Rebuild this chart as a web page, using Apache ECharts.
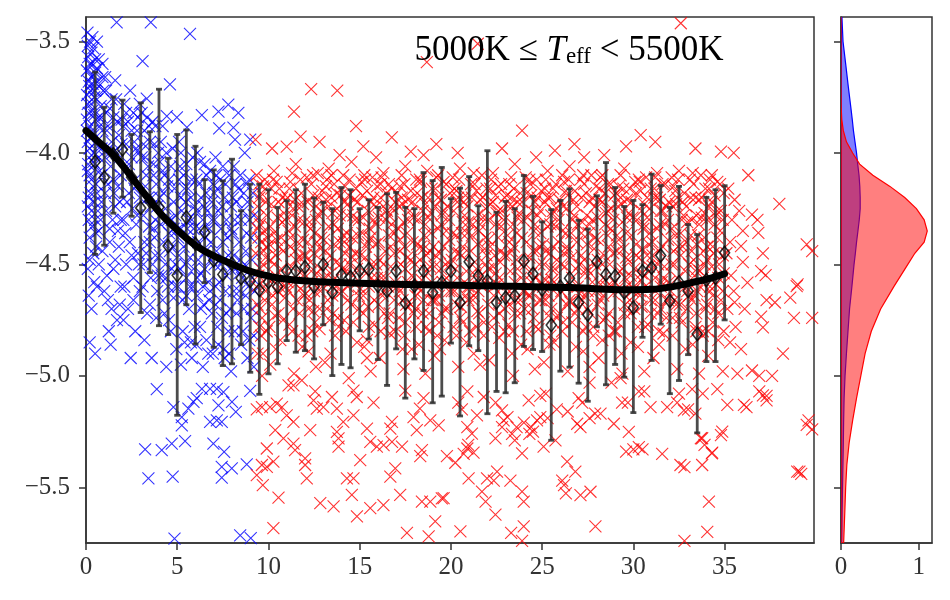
<!DOCTYPE html>
<html lang="en">
<head>
    <meta charset="UTF-8">
    <title>Teff bin</title>
    <script src="https://cdn.jsdelivr.net/npm/echarts@6.0.0/dist/echarts.min.js"></script>
</head>
<body style="margin:0">
<div id="main" style="width: 950px;height:600px;"></div>
<script type="text/javascript">

    // tick labels
    let xTicks = [0, 5, 10, 15, 20, 25, 30, 35];
    let yTicks = [-5.5, -5.0, -4.5, -4.0, -3.5];
    let sideTicks = [0, 1];

    // binned means with error bars
    let errX = [0.5, 1.0, 1.5, 2.0, 2.5, 3.0, 3.5, 4.0, 4.5, 5.0, 5.5, 6.0, 6.5, 7.0, 7.5, 8.0, 8.5, 9.0, 9.5, 10.0,
        10.5, 11.0, 11.5, 12.0, 12.5, 13.0, 13.5, 14.0, 14.5, 15.0, 15.5, 16.0, 16.5, 17.0, 17.5, 18.0, 18.5, 19.0, 19.5, 20.0,
        20.5, 21.0, 21.5, 22.0, 22.5, 23.0, 23.5, 24.0, 24.5, 25.0, 25.5, 26.0, 26.5, 27.0, 27.5, 28.0, 28.5, 29.0, 29.5, 30.0,
        30.5, 31.0, 31.5, 32.0, 32.5, 33.0, 33.5, 34.0, 34.5, 35.0];
    let errMid = [-4.04, -4.11, -4.006, -3.984, -4.109, -4.247, -4.217, -4.243, -4.418, -4.549, -4.289, -4.408, -4.356, -4.482, -4.545, -4.497, -4.562, -4.574, -4.615, -4.579,
        -4.6, -4.53, -4.53, -4.512, -4.6, -4.5, -4.626, -4.548, -4.557, -4.527, -4.522, -4.597, -4.619, -4.53, -4.674, -4.597, -4.53, -4.626, -4.582, -4.53,
        -4.671, -4.488, -4.552, -4.574, -4.671, -4.649, -4.641, -4.485, -4.542, -4.612, -4.772, -4.6, -4.562, -4.671, -4.726, -4.488, -4.545, -4.552, -4.626, -4.694,
        -4.53, -4.515, -4.46, -4.664, -4.58, -4.619, -4.812, -4.57, -4.56, -4.448];
    let errLow = [-4.455, -4.414, -4.27, -4.198, -4.284, -4.716, -4.537, -4.775, -4.815, -5.177, -4.681, -4.857, -4.582, -4.872, -4.954, -4.946, -4.86, -4.984, -5.083, -4.991,
        -4.946, -4.842, -4.894, -4.887, -4.924, -4.771, -4.999, -4.949, -4.964, -4.798, -4.835, -4.927, -5.043, -4.879, -5.1, -4.924, -4.976, -5.121, -5.091, -4.853,
        -5.18, -4.865, -4.887, -5.17, -5.07, -5.076, -5.031, -4.868, -4.882, -4.891, -5.289, -4.979, -4.961, -5.033, -5.114, -4.78, -5.04, -4.949, -5.006, -5.165,
        -4.827, -4.931, -4.768, -5.08, -5.021, -4.905, -5.256, -4.936, -4.936, -4.749];
    let errHigh = [-3.637, -3.795, -3.749, -3.763, -3.917, -3.775, -3.905, -3.714, -4.024, -3.917, -3.897, -3.97, -4.12, -4.076, -4.125, -4.028, -4.259, -4.14, -4.14, -4.165,
        -4.244, -4.214, -4.165, -4.14, -4.202, -4.221, -4.25, -4.155, -4.165, -4.25, -4.21, -4.244, -4.183, -4.177, -4.244, -4.25, -4.088, -4.124, -4.065, -4.205,
        -4.158, -4.106, -4.237, -3.99, -4.266, -4.217, -4.25, -4.101, -4.195, -4.309, -4.254, -4.213, -4.161, -4.302, -4.341, -4.192, -4.043, -4.155, -4.24, -4.213,
        -4.232, -4.095, -4.146, -4.244, -4.15, -4.321, -4.366, -4.199, -4.165, -4.147];

    // smooth trend
    let trend = [[0, -3.9], [0.75, -3.955], [1.5, -4.008], [2.4, -4.098], [3.3, -4.193], [4.2, -4.282], [5.2, -4.36], [6.1, -4.42],
        [7, -4.462], [7.9, -4.495], [8.8, -4.525], [9.7, -4.547], [10.6, -4.562], [12.5, -4.577], [14.5, -4.583], [16.5, -4.588],
        [18.5, -4.591], [20.5, -4.594], [22.5, -4.597], [24.5, -4.6], [26.6, -4.604], [28.5, -4.611], [29.7, -4.614], [31, -4.612],
        [32, -4.602], [33.4, -4.578], [34.3, -4.56], [35, -4.542]];

    // marginal densities
    let kdeY = [-3.39, -3.5, -3.6, -3.7, -3.8, -3.85, -3.9, -3.95, -4.0, -4.05, -4.1, -4.15, -4.2, -4.25, -4.3, -4.35, -4.4, -4.45,
        -4.5, -4.6, -4.7, -4.8, -4.9, -5.0, -5.1, -5.2, -5.3, -5.4, -5.5, -5.6, -5.75];
    let redDens = [0, 0, 0, 0, 0.003, 0.01, 0.03, 0.07, 0.15, 0.24, 0.41, 0.63, 0.82, 0.97, 1.07, 1.11, 1.07, 0.95,
        0.86, 0.68, 0.51, 0.39, 0.31, 0.255, 0.2, 0.15, 0.105, 0.075, 0.06, 0.05, 0.034];
    let blueDens = [0.012, 0.026, 0.06, 0.093, 0.128, 0.145, 0.16, 0.18, 0.2, 0.215, 0.232, 0.242, 0.247, 0.247, 0.235, 0.218, 0.2, 0.185,
        0.168, 0.14, 0.11, 0.09, 0.07, 0.052, 0.04, 0.034, 0.03, 0.025, 0.02, 0.015, 0.01];

    // individual stars
    let bluePts = [
        [0.1,-3.52],[0.3,-3.55],[0.2,-3.6],[0.5,-3.58],[0.4,-3.65],[0.15,-3.68],[0.6,-3.62],[0.25,-3.72],[0.45,-3.75],[0.1,-3.78],
        [0.35,-3.81],[0.7,-3.7],[0.55,-3.85],[0.2,-3.88],[0.8,-3.79],[0.4,-3.92],[0.1,-3.95],[0.65,-3.97],[0.3,-4.01],[0.9,-3.9],
        [0.5,-4.05],[0.2,-4.1],[0.75,-4.08],[0.4,-4.15],[0.15,-4.2],[0.6,-4.18],[0.3,-4.26],[0.85,-4.22],[0.5,-4.3],[0.2,-4.38],
        [0.7,-4.35],[0.4,-4.45],[0.1,-4.52],[0.6,-4.6],[0.3,-4.7],[0.2,-4.85],[0.5,-4.9],[0.35,-3.48],[0.05,-3.63],[0.6,-3.5],
        [0.9,-3.6],[0.25,-3.93],[0.45,-4.0],[0.85,-3.98],[0.15,-4.3],[0.55,-4.42],[0.05,-3.85],[0.7,-3.84],[0.3,-3.66],[0.12,-4.05],
        [0.08,-3.46],[0.22,-3.5],[0.4,-3.53],[0.12,-3.57],[0.3,-3.6],[0.5,-3.64],[0.18,-3.7],[0.36,-3.69],[0.06,-3.74],[0.6,-3.76],
        [0.28,-3.78],[0.45,-3.83],[0.15,-3.82],[0.75,-3.88],[0.33,-3.9],[0.05,-3.9],[0.55,-3.95],[0.2,-3.98],[0.4,-4.04],[0.7,-4.02],
        [0.1,-4.08],[0.3,-4.12],[0.55,-4.14],[0.85,-4.1],[0.25,-4.18],[0.45,-4.22],[0.65,-4.26],[0.1,-4.24],[0.35,-4.33],[0.8,-4.3],
        [0.55,-4.36],[0.2,-4.48],[0.7,-4.5],[0.45,-4.58],[0.15,-4.64],[0.9,-4.44],[0.5,-3.72],[0.7,-3.58],[0.95,-3.72],[0.85,-3.84],
        [0.6,-3.68],[0.9,-3.66],
        [1.1,-3.72],[1.3,-3.8],[1.2,-3.88],[1.5,-3.84],[1.6,-3.674],[1.68,-3.414],[1.4,-3.95],[1.8,-3.92],[1.05,-4.02],[1.35,-4.06],
        [1.7,-4.0],[1.9,-4.1],[1.2,-4.14],[1.55,-4.18],[1.85,-4.22],[1.1,-4.26],[1.45,-4.3],[1.75,-4.35],[1.3,-4.4],[1.6,-4.48],
        [1.15,-4.55],[1.9,-4.6],[1.4,-4.7],[1.25,-4.8],[1.7,-4.75],[1.95,-3.85],[1.5,-4.12],[1.0,-4.62],[1.35,-4.86],[1.8,-4.42],
        [1.05,-3.66],[1.25,-3.98],[1.65,-3.76],[1.15,-3.9],[1.45,-4.0],[1.75,-4.15],[1.05,-4.18],[1.6,-4.24],[1.3,-4.34],[1.9,-4.3],
        [1.5,-4.52],[1.2,-4.66],[1.85,-4.68],[1.1,-3.82],[1.4,-3.76],[1.7,-3.86],[1.95,-3.96],
        [2.1,-3.78],[2.42,-3.72],[2.3,-3.86],[2.6,-3.82],[2.8,-3.9],[2.2,-3.96],[2.5,-4.02],[2.9,-4.0],[2.15,-4.08],[2.7,-4.12],
        [2.35,-4.18],[2.95,-4.2],[2.55,-4.25],[2.05,-4.3],[2.75,-4.32],[2.4,-4.4],[2.85,-4.45],[2.2,-4.5],[2.6,-4.56],[2.95,-4.62],
        [2.3,-4.7],[2.7,-4.8],[2.45,-4.92],[2.1,-4.6],[2.65,-3.95],[2.25,-4.22],[2.05,-3.88],[2.35,-4.05],[2.65,-4.16],[2.15,-4.36],
        [2.8,-4.28],[2.5,-4.46],[2.9,-4.5],[2.05,-4.75],[2.6,-4.66],[2.85,-3.84],[2.2,-3.82],[2.5,-3.9],[2.75,-3.98],[2.95,-3.78],
        [3.1,-3.588],[3.33,-3.756],[3.55,-3.414],[3.2,-3.9],[3.5,-3.95],[3.8,-3.88],[3.05,-4.02],[3.4,-4.06],[3.7,-4.1],[3.95,-4.0],
        [3.25,-4.15],[3.6,-4.2],[3.9,-4.24],[3.15,-4.28],[3.45,-4.33],[3.75,-4.38],[3.3,-4.45],[3.65,-4.5],[3.95,-4.55],[3.1,-4.6],
        [3.5,-4.68],[3.85,-4.74],[3.2,-4.84],[3.6,-4.92],[3.88,-5.06],[3.24,-5.33],[3.42,-5.46],[3.35,-3.84],[3.05,-3.82],[3.65,-3.86],
        [3.3,-4.1],[3.8,-4.3],[3.5,-4.4],[3.15,-4.5],[3.9,-4.62],[3.35,-4.72],[3.7,-4.05],[3.55,-4.24],[3.15,-3.96],[3.45,-3.88],
        [3.75,-3.96],[3.25,-4.02],[3.85,-4.14],[3.4,-4.2],[3.7,-4.34],[3.2,-4.4],[3.55,-4.56],[3.8,-4.46],
        [4.6,-3.692],[4.43,-3.835],[4.98,-3.84],[4.1,-3.95],[4.4,-4.0],[4.75,-3.98],[4.2,-4.08],[4.55,-4.12],[4.85,-4.16],[4.05,-4.2],
        [4.35,-4.25],[4.7,-4.3],[4.95,-4.35],[4.25,-4.4],[4.6,-4.44],[4.9,-4.5],[4.15,-4.55],[4.5,-4.6],[4.8,-4.65],[4.3,-4.72],
        [4.65,-4.8],[4.95,-4.88],[4.4,-4.96],[4.79,-5.14],[4.15,-5.333],[4.7,-5.304],[4.75,-5.452],[4.85,-5.73],[4.2,-3.88],[4.45,-4.15],
        [4.8,-4.22],[4.1,-4.32],[4.55,-4.36],[4.35,-4.5],[4.75,-4.42],[4.2,-4.66],[4.55,-4.75],[4.9,-4.6],[4.05,-4.04],[4.3,-4.1],
        [4.65,-4.06],[4.9,-4.28],[4.25,-4.18],[4.5,-4.3],[4.8,-4.34],[4.05,-4.46],[4.4,-4.56],[4.7,-4.52],
        [5.7,-3.466],[5.53,-3.885],[5.2,-4.0],[5.5,-4.05],[5.85,-4.02],[5.1,-4.12],[5.4,-4.16],[5.75,-4.2],[5.25,-4.26],[5.6,-4.3],
        [5.9,-4.34],[5.05,-4.38],[5.35,-4.42],[5.7,-4.47],[5.15,-4.52],[5.5,-4.56],[5.85,-4.6],[5.3,-4.66],[5.65,-4.7],[5.95,-4.78],
        [5.4,-4.85],[5.8,-4.92],[5.25,-5.185],[5.25,-5.222],[5.61,-5.147],[5.89,-5.117],[5.43,-5.293],[5.2,-4.95],[5.1,-3.95],[5.45,-4.22],
        [5.8,-4.12],[5.2,-4.34],[5.65,-4.4],[5.05,-4.6],[5.5,-4.64],[5.9,-4.52],[5.3,-4.8],[5.75,-4.85],[5.15,-4.06],[5.35,-4.1],
        [5.6,-4.16],[5.95,-4.24],[5.2,-4.2],[5.55,-4.34],[5.8,-4.3],[5.1,-4.46],[5.45,-4.5],[5.7,-4.6],
        [6.35,-3.83],[6.1,-4.0],[6.5,-4.05],[6.8,-4.08],[6.2,-4.14],[6.6,-4.18],[6.9,-4.22],[6.05,-4.26],[6.4,-4.3],[6.75,-4.34],
        [6.15,-4.4],[6.55,-4.44],[6.85,-4.48],[6.3,-4.54],[6.7,-4.58],[6.1,-4.64],[6.45,-4.68],[6.9,-4.72],[6.25,-4.78],[6.6,-4.84],
        [6.95,-4.9],[6.4,-4.96],[6.07,-5.1],[6.35,-5.058],[6.8,-5.058],[6.8,-5.207],[6.98,-5.304],[6.25,-4.04],[6.6,-4.1],[6.9,-4.3],
        [6.15,-4.48],[6.5,-4.52],[6.8,-4.62],[6.3,-4.7],[6.7,-4.9],[6.05,-4.86],[6.45,-4.24],[6.05,-4.12],[6.3,-4.2],[6.65,-4.26],
        [6.95,-4.14],[6.2,-4.34],[6.55,-4.38],[6.85,-4.4],[6.1,-4.56],[6.4,-4.6],[6.75,-4.66],
        [7.26,-3.815],[7.8,-3.783],[7.3,-3.89],[7.1,-4.02],[7.5,-4.06],[7.85,-4.1],[7.2,-4.16],[7.6,-4.2],[7.95,-4.24],[7.05,-4.3],
        [7.4,-4.34],[7.75,-4.38],[7.15,-4.44],[7.55,-4.48],[7.9,-4.52],[7.3,-4.58],[7.65,-4.62],[7.1,-4.68],[7.45,-4.74],[7.8,-4.8],
        [7.25,-4.86],[7.6,-4.92],[7.95,-4.98],[7.17,-5.058],[7.53,-5.073],[7.26,-5.133],[7.17,-5.2],[7.44,-5.207],[7.57,-5.341],
        [7.44,-5.408],[7.99,-5.415],[7.44,-5.457],[7.15,-4.1],[7.45,-4.24],[7.7,-4.3],[7.05,-4.5],[7.35,-4.66],[7.7,-4.55],[7.9,-4.7],
        [7.2,-4.78],[7.55,-4.88],[7.85,-4.9],[7.05,-4.18],[7.35,-4.12],[7.65,-4.14],[7.95,-4.34],[7.25,-4.26],[7.5,-4.4],[7.8,-4.46],
        [7.1,-4.6],[7.4,-4.5],[7.7,-4.72],
        [8.35,-3.82],[8.08,-3.886],[8.17,-3.94],[9.0,-3.94],[8.1,-4.06],[8.45,-4.1],[8.8,-4.14],[9.15,-4.18],[8.25,-4.22],[8.6,-4.26],
        [8.95,-4.3],[8.05,-4.36],[8.4,-4.4],[8.75,-4.44],[9.1,-4.48],[8.2,-4.52],[8.55,-4.56],[8.9,-4.6],[8.3,-4.66],[8.65,-4.7],
        [9.05,-4.74],[8.15,-4.8],[8.5,-4.86],[8.85,-4.92],[9.2,-4.96],[8.0,-5.117],[8.21,-5.162],[9.0,-5.067],[8.81,-5.397],
        [8.45,-5.716],[9.03,-5.728],[8.7,-4.0],[9.25,-4.62],[8.2,-4.14],[8.5,-4.3],[8.85,-4.22],[8.1,-4.46],[8.4,-4.62],[8.7,-4.5],
        [9.05,-4.38],[8.25,-4.72],[8.6,-4.8],[8.95,-4.84],[9.2,-4.28],[9.1,-4.7],[8.05,-4.2],[8.35,-4.16],[8.65,-4.18],[8.95,-4.12],
        [8.15,-4.3],[8.45,-4.48],[8.8,-4.36],[8.1,-4.62],[8.4,-4.54],[8.75,-4.64],[9.1,-4.56],[9.2,-4.82]
    ];

    let redPts = [
        [9.35,-4.1],[9.5,-4.2],[9.7,-4.15],[9.9,-4.28],[9.4,-4.34],[9.6,-4.4],[9.85,-4.47],[9.45,-4.55],[9.75,-4.6],[9.55,-4.7],[9.9,-4.8],[9.4,-4.9],[9.65,-5.0],
        [10.3,-4.08],[10.6,-4.16],[10.95,-4.21],[10.15,-4.23],[10.5,-4.29],[10.75,-4.31],[10.05,-4.41],[10.4,-4.46],[10.7,-4.52],[10.2,-4.57],[10.9,-4.65],[10.35,-4.73],[10.65,-4.84],[10.1,-4.95],
        [11.5,-4.05],[11.2,-4.13],[11.8,-4.18],[11.35,-4.25],[11.65,-4.3],[11.1,-4.35],[11.9,-4.39],[11.45,-4.44],[11.25,-4.51],[11.75,-4.61],[11.55,-4.66],[11.15,-4.77],[11.85,-4.87],[11.4,-4.99],
        [12.1,-4.11],[12.45,-4.19],[12.7,-4.09],[12.9,-4.26],[12.25,-4.31],[12.55,-4.36],[12.85,-4.43],[12.3,-4.49],[12.65,-4.54],[12.05,-4.63],[12.45,-4.71],[12.8,-4.79],[12.2,-4.89],[12.6,-4.96],
        [13.3,-4.07],[13.6,-4.14],[13.95,-4.19],[13.15,-4.21],[13.5,-4.27],[13.8,-4.34],[13.05,-4.39],[13.4,-4.46],[13.7,-4.49],[13.25,-4.59],[13.9,-4.63],[13.35,-4.75],[13.65,-4.82],[13.1,-4.94],
        [14.55,-4.04],[14.2,-4.15],[14.8,-4.16],[14.35,-4.23],[14.65,-4.28],[14.1,-4.37],[14.9,-4.37],[14.45,-4.42],[14.25,-4.53],[14.75,-4.59],[14.55,-4.68],[14.15,-4.75],[14.85,-4.85],[14.4,-5.01],
        [15.1,-4.13],[15.4,-4.17],[15.7,-4.11],[15.9,-4.24],[15.2,-4.29],[15.55,-4.34],[15.85,-4.41],[15.3,-4.47],[15.65,-4.56],[15.05,-4.61],[15.45,-4.69],[15.8,-4.77],[15.25,-4.87],[15.6,-4.98],
        [16.3,-4.09],[16.6,-4.14],[16.95,-4.22],[16.15,-4.2],[16.5,-4.26],[16.75,-4.32],[16.05,-4.4],[16.4,-4.44],[16.7,-4.51],[16.2,-4.56],[16.9,-4.66],[16.35,-4.72],[16.65,-4.81],[16.1,-4.92],
        [17.5,-4.06],[17.2,-4.15],[17.8,-4.17],[17.35,-4.23],[17.65,-4.3],[17.1,-4.34],[17.9,-4.4],[17.45,-4.42],[17.25,-4.5],[17.75,-4.59],[17.55,-4.68],[17.15,-4.74],[17.85,-4.88],[17.4,-4.97],
        [18.1,-4.12],[18.4,-4.2],[18.7,-4.08],[18.9,-4.27],[18.2,-4.3],[18.55,-4.37],[18.85,-4.44],[18.3,-4.48],[18.65,-4.53],[18.05,-4.64],[18.45,-4.72],[18.8,-4.8],[18.25,-4.86],[18.6,-4.99],
        [19.3,-4.1],[19.6,-4.13],[19.95,-4.18],[19.15,-4.24],[19.5,-4.28],[19.75,-4.35],[19.05,-4.42],[19.4,-4.45],[19.7,-4.5],[19.2,-4.6],[19.9,-4.62],[19.35,-4.76],[19.65,-4.84],[19.1,-4.91],
        [20.5,-4.07],[20.2,-4.16],[20.8,-4.19],[20.35,-4.22],[20.65,-4.31],[20.1,-4.36],[20.9,-4.36],[20.45,-4.45],[20.25,-4.52],[20.75,-4.58],[20.55,-4.69],[20.15,-4.78],[20.85,-4.85],[20.4,-4.96],
        [21.1,-4.14],[21.4,-4.17],[21.7,-4.1],[21.9,-4.25],[21.2,-4.32],[21.55,-4.35],[21.85,-4.43],[21.3,-4.49],[21.65,-4.55],[21.05,-4.6],[21.45,-4.71],[21.8,-4.76],[21.25,-4.9],[21.6,-4.95],
        [22.3,-4.09],[22.6,-4.15],[22.95,-4.2],[22.15,-4.23],[22.5,-4.27],[22.75,-4.33],[22.05,-4.39],[22.4,-4.46],[22.7,-4.49],[22.2,-4.59],[22.9,-4.65],[22.35,-4.74],[22.65,-4.83],[22.1,-4.93],
        [23.5,-4.05],[23.2,-4.14],[23.8,-4.18],[23.35,-4.24],[23.65,-4.29],[23.1,-4.37],[23.9,-4.38],[23.45,-4.42],[23.25,-4.53],[23.75,-4.6],[23.55,-4.66],[23.15,-4.77],[23.85,-4.86],[23.4,-5.0],
        [24.1,-4.11],[24.4,-4.19],[24.7,-4.12],[24.9,-4.26],[24.2,-4.29],[24.55,-4.35],[24.85,-4.42],[24.3,-4.47],[24.65,-4.56],[24.05,-4.62],[24.45,-4.7],[24.8,-4.79],[24.2,-4.88],[24.6,-4.97],
        [25.3,-4.08],[25.6,-4.16],[25.95,-4.21],[25.15,-4.22],[25.5,-4.28],[25.75,-4.33],[25.05,-4.41],[25.4,-4.45],[25.7,-4.52],[25.2,-4.57],[25.9,-4.64],[25.35,-4.73],[25.65,-4.85],[25.1,-4.94],
        [26.5,-4.06],[26.2,-4.13],[26.8,-4.17],[26.35,-4.25],[26.65,-4.3],[26.1,-4.35],[26.9,-4.4],[26.45,-4.44],[26.25,-4.51],[26.75,-4.61],[26.55,-4.67],[26.15,-4.76],[26.85,-4.87],[26.4,-4.98],
        [27.1,-4.12],[27.4,-4.18],[27.7,-4.1],[27.9,-4.24],[27.2,-4.31],[27.55,-4.36],[27.85,-4.43],[27.3,-4.48],[27.65,-4.54],[27.05,-4.63],[27.45,-4.7],[27.8,-4.78],[27.25,-4.89],[27.6,-4.96],
        [28.3,-4.1],[28.6,-4.14],[28.95,-4.19],[28.15,-4.21],[28.5,-4.27],[28.75,-4.34],[28.05,-4.39],[28.4,-4.46],[28.7,-4.5],[28.2,-4.59],[28.9,-4.63],[28.35,-4.75],[28.65,-4.82],[28.1,-4.92],
        [29.5,-4.07],[29.2,-4.15],[29.8,-4.16],[29.35,-4.23],[29.65,-4.29],[29.1,-4.37],[29.9,-4.37],[29.45,-4.43],[29.25,-4.53],[29.75,-4.59],[29.55,-4.68],[29.15,-4.76],[29.85,-4.85],[29.4,-4.99],
        [30.1,-4.13],[30.4,-4.17],[30.7,-4.11],[30.9,-4.25],[30.2,-4.3],[30.55,-4.34],[30.85,-4.41],[30.3,-4.47],[30.65,-4.55],[30.05,-4.61],[30.45,-4.69],[30.8,-4.77],[30.25,-4.87],[30.6,-4.98],
        [31.3,-4.09],[31.6,-4.14],[31.95,-4.22],[31.15,-4.2],[31.5,-4.26],[31.75,-4.32],[31.05,-4.4],[31.4,-4.44],[31.7,-4.51],[31.2,-4.56],[31.9,-4.66],[31.35,-4.72],[31.65,-4.81],[31.1,-4.92],
        [32.5,-4.08],[32.2,-4.15],[32.8,-4.18],[32.35,-4.23],[32.65,-4.3],[32.1,-4.34],[32.9,-4.4],[32.45,-4.42],[32.25,-4.5],[32.75,-4.59],[32.55,-4.68],[32.15,-4.74],[32.85,-4.88],[32.4,-4.97],
        [33.1,-4.12],[33.4,-4.2],[33.7,-4.1],[33.9,-4.27],[33.2,-4.3],[33.55,-4.37],[33.85,-4.44],[33.3,-4.48],[33.65,-4.53],[33.05,-4.64],[33.45,-4.72],[33.8,-4.8],[33.25,-4.86],[33.6,-4.99],
        [34.3,-4.1],[34.6,-4.13],[34.95,-4.18],[34.15,-4.24],[34.5,-4.28],[34.75,-4.35],[34.05,-4.42],[34.4,-4.45],[34.7,-4.5],[34.2,-4.6],[34.9,-4.62],[34.35,-4.76],[34.65,-4.84],[34.1,-4.91],
        [35.2,-4.16],[35.4,-4.3],[35.1,-4.45],[35.35,-4.55],[35.15,-4.7],[35.3,-4.85],
        // core of the band
        [9.4,-4.24],[9.8,-4.12],[9.55,-4.32],[9.95,-4.38],[9.3,-4.45],[9.7,-4.5],[9.5,-4.14],[9.9,-4.56],
        [10.25,-4.12],[10.55,-4.22],[10.85,-4.27],[10.1,-4.33],[10.45,-4.39],[10.8,-4.44],[10.3,-4.5],[10.6,-4.6],
        [11.05,-4.2],[11.3,-4.09],[11.6,-4.24],[11.95,-4.31],[11.2,-4.42],[11.7,-4.47],[11.45,-4.33],[11.9,-4.55],
        [12.35,-4.14],[12.6,-4.24],[12.95,-4.17],[12.15,-4.4],[12.5,-4.45],[12.75,-4.28],[12.4,-4.58],[12.85,-4.52],
        [13.2,-4.12],[13.45,-4.2],[13.75,-4.25],[13.9,-4.4],[13.3,-4.33],[13.6,-4.41],[13.15,-4.5],[13.55,-4.57],
        [14.1,-4.1],[14.4,-4.19],[14.7,-4.21],[14.95,-4.3],[14.3,-4.36],[14.6,-4.47],[14.85,-4.52],[14.2,-4.45],
        [15.25,-4.1],[15.6,-4.22],[15.95,-4.15],[15.15,-4.36],[15.45,-4.4],[15.75,-4.3],[15.35,-4.54],[15.9,-4.5],
        [16.2,-4.11],[16.45,-4.18],[16.8,-4.25],[16.05,-4.29],[16.6,-4.37],[16.9,-4.45],[16.3,-4.5],[16.55,-4.6],
        [17.05,-4.18],[17.3,-4.1],[17.65,-4.21],[17.95,-4.29],[17.2,-4.39],[17.6,-4.47],[17.4,-4.31],[17.85,-4.55],
        [18.35,-4.13],[18.6,-4.23],[18.95,-4.16],[18.15,-4.41],[18.5,-4.43],[18.75,-4.29],[18.4,-4.57],[18.85,-4.51],
        [19.2,-4.11],[19.45,-4.21],[19.8,-4.24],[19.9,-4.39],[19.3,-4.34],[19.6,-4.42],[19.1,-4.51],[19.55,-4.58],
        [20.1,-4.11],[20.4,-4.2],[20.7,-4.22],[20.95,-4.31],[20.3,-4.37],[20.6,-4.46],[20.85,-4.53],[20.2,-4.44],
        [21.25,-4.09],[21.6,-4.21],[21.95,-4.16],[21.15,-4.37],[21.45,-4.41],[21.75,-4.29],[21.35,-4.55],[21.9,-4.5],
        [22.2,-4.12],[22.45,-4.19],[22.8,-4.26],[22.05,-4.3],[22.6,-4.38],[22.9,-4.46],[22.3,-4.51],[22.55,-4.59],
        [23.05,-4.19],[23.3,-4.11],[23.65,-4.22],[23.95,-4.3],[23.2,-4.4],[23.6,-4.48],[23.4,-4.32],[23.85,-4.56],
        [24.35,-4.14],[24.6,-4.22],[24.95,-4.17],[24.15,-4.4],[24.5,-4.44],[24.75,-4.28],[24.4,-4.58],[24.85,-4.5],
        [25.2,-4.12],[25.45,-4.2],[25.8,-4.25],[25.9,-4.4],[25.3,-4.33],[25.6,-4.42],[25.1,-4.5],[25.55,-4.57],
        [26.1,-4.1],[26.4,-4.19],[26.7,-4.21],[26.95,-4.32],[26.3,-4.36],[26.6,-4.47],[26.85,-4.52],[26.2,-4.45],
        [27.25,-4.1],[27.6,-4.22],[27.95,-4.15],[27.15,-4.36],[27.45,-4.41],[27.75,-4.3],[27.35,-4.54],[27.9,-4.5],
        [28.2,-4.11],[28.45,-4.18],[28.8,-4.25],[28.05,-4.29],[28.6,-4.37],[28.9,-4.45],[28.3,-4.5],[28.55,-4.6],
        [29.05,-4.18],[29.3,-4.1],[29.65,-4.21],[29.95,-4.29],[29.2,-4.39],[29.6,-4.47],[29.4,-4.31],[29.85,-4.55],
        [30.35,-4.13],[30.6,-4.23],[30.95,-4.16],[30.15,-4.41],[30.5,-4.43],[30.75,-4.29],[30.4,-4.57],[30.85,-4.51],
        [31.2,-4.11],[31.45,-4.21],[31.8,-4.24],[31.9,-4.39],[31.3,-4.34],[31.6,-4.42],[31.1,-4.51],[31.55,-4.58],
        [32.1,-4.11],[32.4,-4.2],[32.7,-4.22],[32.95,-4.31],[32.3,-4.37],[32.6,-4.46],[32.85,-4.53],[32.2,-4.44],
        [33.25,-4.09],[33.6,-4.21],[33.95,-4.16],[33.15,-4.37],[33.45,-4.41],[33.75,-4.29],[33.35,-4.55],[33.9,-4.5],
        [34.2,-4.12],[34.45,-4.19],[34.8,-4.26],[34.05,-4.3],[34.6,-4.38],[34.9,-4.46],[34.3,-4.51],[34.55,-4.59],
        // second pass over the band
        [9.6,-4.18],[9.85,-4.22],[9.45,-4.29],[9.75,-4.35],[9.35,-4.6],[9.8,-4.66],[9.5,-4.78],[9.7,-4.9],
        [10.15,-4.16],[10.45,-4.13],[10.75,-4.2],[10.3,-4.36],[10.6,-4.42],[10.9,-4.3],[10.2,-4.68],[10.5,-4.62],[10.8,-4.75],[10.4,-4.88],
        [11.15,-4.16],[11.45,-4.21],[11.75,-4.12],[11.3,-4.28],[11.6,-4.4],[11.9,-4.23],[11.05,-4.58],[11.35,-4.7],[11.65,-4.82],[11.95,-4.64],
        [12.15,-4.22],[12.45,-4.1],[12.75,-4.2],[12.3,-4.34],[12.6,-4.3],[12.9,-4.38],[12.25,-4.66],[12.55,-4.76],[12.85,-4.62],[12.1,-4.82],
        [13.15,-4.15],[13.45,-4.1],[13.75,-4.18],[13.3,-4.24],[13.6,-4.32],[13.9,-4.28],[13.2,-4.7],[13.5,-4.64],[13.8,-4.74],[13.4,-4.9],
        [14.15,-4.22],[14.45,-4.12],[14.75,-4.3],[14.3,-4.28],[14.6,-4.38],[14.9,-4.22],[14.05,-4.62],[14.35,-4.66],[14.65,-4.76],[14.95,-4.7],
        [15.15,-4.19],[15.45,-4.26],[15.75,-4.2],[15.3,-4.12],[15.6,-4.38],[15.9,-4.32],[15.2,-4.64],[15.5,-4.78],[15.8,-4.66],[15.4,-4.92],
        [16.15,-4.14],[16.45,-4.3],[16.75,-4.16],[16.3,-4.24],[16.6,-4.28],[16.9,-4.36],[16.05,-4.68],[16.35,-4.62],[16.65,-4.72],[16.95,-4.8],
        [17.15,-4.24],[17.45,-4.14],[17.75,-4.26],[17.3,-4.2],[17.6,-4.36],[17.9,-4.22],[17.2,-4.62],[17.5,-4.76],[17.8,-4.68],[17.35,-4.88],
        [18.15,-4.18],[18.45,-4.26],[18.75,-4.2],[18.3,-4.12],[18.6,-4.32],[18.9,-4.36],[18.05,-4.7],[18.35,-4.62],[18.65,-4.78],[18.95,-4.66],
        [19.15,-4.16],[19.45,-4.32],[19.75,-4.14],[19.3,-4.2],[19.6,-4.26],[19.9,-4.3],[19.2,-4.66],[19.5,-4.72],[19.8,-4.7],[19.4,-4.88],
        [20.15,-4.26],[20.45,-4.12],[20.75,-4.28],[20.3,-4.17],[20.6,-4.36],[20.9,-4.24],[20.05,-4.62],[20.35,-4.68],[20.65,-4.76],[20.95,-4.66],
        [21.15,-4.2],[21.45,-4.28],[21.75,-4.2],[21.3,-4.14],[21.6,-4.32],[21.9,-4.38],[21.2,-4.66],[21.5,-4.62],[21.8,-4.82],[21.4,-4.78],
        [22.15,-4.16],[22.45,-4.32],[22.75,-4.14],[22.3,-4.22],[22.6,-4.26],[22.9,-4.3],[22.05,-4.68],[22.35,-4.64],[22.65,-4.72],[22.95,-4.8],
        [23.15,-4.24],[23.45,-4.16],[23.75,-4.27],[23.3,-4.2],[23.6,-4.36],[23.9,-4.22],[23.2,-4.62],[23.5,-4.72],[23.8,-4.66],[23.35,-4.9],
        [24.15,-4.18],[24.45,-4.26],[24.75,-4.2],[24.3,-4.12],[24.6,-4.32],[24.9,-4.36],[24.05,-4.7],[24.35,-4.64],[24.65,-4.78],[24.95,-4.66],
        [25.15,-4.16],[25.45,-4.32],[25.75,-4.14],[25.3,-4.2],[25.6,-4.26],[25.9,-4.3],[25.2,-4.66],[25.5,-4.7],[25.8,-4.74],[25.4,-4.86],
        [26.15,-4.24],[26.45,-4.12],[26.75,-4.28],[26.3,-4.17],[26.6,-4.36],[26.9,-4.24],[26.05,-4.62],[26.35,-4.68],[26.65,-4.76],[26.95,-4.7],
        [27.15,-4.2],[27.45,-4.28],[27.75,-4.2],[27.3,-4.14],[27.6,-4.32],[27.9,-4.38],[27.2,-4.66],[27.5,-4.62],[27.8,-4.82],[27.4,-4.78],
        [28.15,-4.16],[28.45,-4.32],[28.75,-4.14],[28.3,-4.22],[28.6,-4.26],[28.9,-4.3],[28.05,-4.68],[28.35,-4.64],[28.65,-4.72],[28.95,-4.8],
        [29.15,-4.24],[29.45,-4.16],[29.75,-4.27],[29.3,-4.2],[29.6,-4.36],[29.9,-4.22],[29.2,-4.62],[29.5,-4.72],[29.8,-4.66],[29.35,-4.9],
        [30.15,-4.18],[30.45,-4.26],[30.75,-4.2],[30.3,-4.12],[30.6,-4.32],[30.9,-4.36],[30.05,-4.7],[30.35,-4.64],[30.65,-4.78],[30.95,-4.66],
        [31.15,-4.16],[31.45,-4.32],[31.75,-4.14],[31.3,-4.2],[31.6,-4.26],[31.9,-4.3],[31.2,-4.66],[31.5,-4.7],[31.8,-4.74],[31.4,-4.86],
        [32.15,-4.24],[32.45,-4.12],[32.75,-4.28],[32.3,-4.17],[32.6,-4.36],[32.9,-4.24],[32.05,-4.62],[32.35,-4.68],[32.65,-4.76],[32.95,-4.7],
        [33.15,-4.2],[33.45,-4.28],[33.75,-4.2],[33.3,-4.14],[33.6,-4.32],[33.9,-4.38],[33.2,-4.66],[33.5,-4.62],[33.8,-4.82],[33.4,-4.78],
        [34.15,-4.16],[34.45,-4.32],[34.75,-4.14],[34.3,-4.22],[34.6,-4.26],[34.9,-4.3],[34.05,-4.68],[34.35,-4.64],[34.65,-4.72],[34.95,-4.8],
        // third pass, lower half of the band
        [9.45,-4.38],[9.75,-4.44],[9.55,-4.52],[9.85,-4.62],[9.4,-4.68],[9.65,-4.74],[9.9,-4.42],[9.6,-4.82],
        [10.1,-4.48],[10.4,-4.55],[10.7,-4.38],[10.95,-4.6],[10.25,-4.64],[10.55,-4.72],[10.85,-4.56],[10.05,-4.78],
        [11.2,-4.38],[11.5,-4.48],[11.8,-4.53],[11.1,-4.62],[11.4,-4.58],[11.7,-4.72],[11.95,-4.46],[11.3,-4.8],
        [12.05,-4.46],[12.35,-4.53],[12.65,-4.4],[12.95,-4.6],[12.2,-4.7],[12.5,-4.62],[12.8,-4.7],[12.4,-4.8],
        [13.1,-4.44],[13.4,-4.54],[13.7,-4.6],[13.95,-4.5],[13.25,-4.66],[13.55,-4.72],[13.85,-4.78],[13.05,-4.56],
        [14.15,-4.4],[14.45,-4.5],[14.75,-4.45],[14.05,-4.52],[14.35,-4.6],[14.65,-4.55],[14.95,-4.64],[14.25,-4.8],
        [15.05,-4.46],[15.35,-4.42],[15.65,-4.5],[15.95,-4.56],[15.2,-4.72],[15.5,-4.6],[15.8,-4.58],[15.4,-4.84],
        [16.1,-4.48],[16.4,-4.56],[16.7,-4.42],[16.95,-4.58],[16.25,-4.64],[16.55,-4.74],[16.85,-4.6],[16.15,-4.8],
        [17.2,-4.44],[17.5,-4.52],[17.8,-4.48],[17.05,-4.6],[17.35,-4.66],[17.65,-4.58],[17.95,-4.72],[17.45,-4.82],
        [18.05,-4.5],[18.35,-4.42],[18.65,-4.46],[18.95,-4.58],[18.2,-4.6],[18.5,-4.66],[18.8,-4.72],[18.1,-4.78],
        [19.15,-4.46],[19.45,-4.52],[19.75,-4.56],[19.05,-4.66],[19.35,-4.64],[19.65,-4.7],[19.95,-4.5],[19.25,-4.82],
        [20.05,-4.48],[20.35,-4.56],[20.65,-4.42],[20.95,-4.6],[20.2,-4.62],[20.5,-4.74],[20.8,-4.64],[20.3,-4.82],
        [21.1,-4.44],[21.4,-4.52],[21.7,-4.6],[21.95,-4.46],[21.25,-4.64],[21.55,-4.72],[21.85,-4.58],[21.05,-4.8],
        [22.15,-4.42],[22.45,-4.54],[22.75,-4.44],[22.05,-4.52],[22.35,-4.6],[22.65,-4.56],[22.95,-4.7],[22.25,-4.78],
        [23.05,-4.46],[23.35,-4.44],[23.65,-4.52],[23.95,-4.62],[23.2,-4.68],[23.5,-4.58],[23.8,-4.72],[23.4,-4.8],
        [24.1,-4.5],[24.4,-4.54],[24.7,-4.44],[24.95,-4.58],[24.25,-4.64],[24.55,-4.74],[24.85,-4.66],[24.15,-4.8],
        [25.2,-4.44],[25.5,-4.52],[25.8,-4.48],[25.05,-4.6],[25.35,-4.64],[25.65,-4.58],[25.95,-4.72],[25.45,-4.82],
        [26.05,-4.5],[26.35,-4.42],[26.65,-4.56],[26.95,-4.6],[26.2,-4.6],[26.5,-4.66],[26.8,-4.72],[26.1,-4.8],
        [27.15,-4.46],[27.45,-4.52],[27.75,-4.58],[27.05,-4.5],[27.35,-4.64],[27.65,-4.72],[27.95,-4.62],[27.25,-4.8],
        [28.05,-4.48],[28.35,-4.56],[28.65,-4.42],[28.95,-4.58],[28.2,-4.66],[28.5,-4.74],[28.8,-4.6],[28.3,-4.84],
        [29.1,-4.44],[29.4,-4.52],[29.7,-4.48],[29.95,-4.62],[29.25,-4.6],[29.55,-4.56],[29.85,-4.72],[29.05,-4.8],
        [30.15,-4.46],[30.45,-4.54],[30.75,-4.46],[30.05,-4.52],[30.35,-4.62],[30.65,-4.6],[30.95,-4.72],[30.25,-4.78],
        [31.05,-4.46],[31.35,-4.5],[31.65,-4.56],[31.95,-4.58],[31.2,-4.62],[31.5,-4.6],[31.8,-4.66],[31.4,-4.8],
        [32.1,-4.5],[32.4,-4.56],[32.7,-4.42],[32.95,-4.62],[32.25,-4.66],[32.55,-4.74],[32.85,-4.6],[32.15,-4.82],
        [33.2,-4.44],[33.5,-4.52],[33.8,-4.56],[33.05,-4.5],[33.35,-4.64],[33.65,-4.6],[33.95,-4.7],[33.45,-4.8],
        [34.05,-4.48],[34.35,-4.42],[34.65,-4.56],[34.95,-4.54],[34.2,-4.62],[34.5,-4.7],[34.8,-4.66],[34.1,-4.8],
        // above the band
        [13.77,-3.72],[11.4,-3.815],[11.76,-3.927],[9.29,-3.94],[11.0,-3.972],[32.6,-3.418],[21.47,-3.51],[18.68,-3.592],
        [16.76,-3.93],[26.77,-3.96],[13.9,-4.01],[17.8,-3.994],[18.5,-4.01],[20.37,-4.0],[28.4,-4.01],[34.8,-3.994],
        [35.5,-4.0],[24.67,-4.02],[15.9,-4.02],[27.3,-4.02],[12.34,-3.714],[10.2,-3.98],[12.8,-3.95],[15.2,-3.97],
        [19.2,-3.96],[22.8,-3.98],[25.7,-3.99],[29.6,-3.97],[31.2,-3.95],[33.4,-3.98],[14.8,-3.88],[23.9,-3.9],[30.4,-3.92],
        // right of the bins
        [38.0,-4.228],[36.5,-4.277],[36.85,-4.359],[37.1,-4.451],[37.25,-4.548],[37.0,-4.53],[37.76,-4.671],[37.0,-4.734],
        [37.1,-4.783],[38.6,-4.649],[38.95,-4.597],[37.3,-4.66],[36.5,-4.976],[35.7,-4.99],[34.9,-4.98],[36.2,-5.14],
        [37.1,-5.088],[37.3,-5.11],[36.0,-4.35],[35.55,-4.21],[35.8,-4.26],[35.9,-4.418],[36.0,-4.49],[36.25,-4.582],
        [35.5,-4.62],[35.55,-4.67],[35.6,-4.78],[34.8,-5.266],[33.7,-5.28],[34.3,-5.348],[39.1,-5.43],[39.6,-5.2],
        [39.5,-4.41],[39.8,-4.44],[39.8,-4.74],[39.8,-5.24],[39.2,-5.44],[39.0,-4.59],[38.8,-4.74],[36.3,-4.1],
        [36.8,-4.3],[35.3,-4.4],[36.1,-4.7],[35.9,-4.88],[38.2,-4.9],[36.9,-5.0],[37.6,-5.0],
        // below the band
        [9.64,-5.14],[9.36,-5.15],[10.09,-5.14],[10.46,-5.125],[10.74,-5.14],[11.1,-5.043],[11.37,-5.043],[11.83,-5.02],
        [12.47,-5.11],[12.65,-5.147],[13.01,-5.14],[12.56,-5.07],[11.0,-5.177],[11.37,-5.207],[10.37,-5.244],[10.82,-5.281],
        [11.37,-5.304],[11.46,-5.333],[12.29,-5.244],[9.91,-5.326],[9.64,-5.4],[9.91,-5.408],[10.27,-5.385],[9.36,-5.445],
        [9.69,-5.49],[10.55,-5.546],[10.27,-5.683],[12.01,-5.4],[12.1,-5.46],[12.01,-5.37],[12.84,-5.571],[13.57,-5.586],
        [13.48,-5.095],[13.75,-5.147],[14.66,-5.066],[14.84,-5.095],[14.66,-5.177],[14.1,-5.207],[13.75,-5.251],[13.84,-5.281],
        [13.84,-5.318],[15.03,-5.378],[14.3,-5.46],[14.66,-5.46],[14.57,-5.534],[14.85,-5.631],[15.76,-5.12],[15.4,-5.237],
        [15.58,-5.296],[15.94,-5.318],[16.31,-5.311],[16.77,-5.207],[16.77,-5.296],[17.32,-5.318],[16.68,-5.237],[16.95,-5.415],
        [16.68,-5.452],[15.58,-5.594],[16.3,-5.58],[17.22,-5.534],[17.95,-5.185],[18.13,-5.244],[18.41,-5.333],[18.32,-5.36],
        [18.87,-5.2],[19.33,-5.222],[19.78,-5.36],[18.41,-5.564],[18.87,-5.564],[19.5,-5.55],[19.14,-5.653],[17.59,-5.705],
        [18.78,-5.72],[17.5,-5.066],[18.5,-5.1],[18.3,-5.147],
        [20.24,-5.39],[19.6,-5.549],[20.97,-5.46],[20.9,-5.326],[20.95,-5.31],[21.24,-5.345],[20.7,-5.35],[21.15,-5.259],
        [20.9,-5.23],[21.43,-5.177],[20.9,-5.07],[20.4,-5.12],[20.6,-5.15],[21.8,-5.095],[22.44,-5.281],[21.98,-5.46],
        [22.35,-5.47],[22.53,-5.43],[21.7,-5.519],[21.9,-5.564],[22.44,-5.623],[23.26,-5.47],[23.9,-5.519],[23.99,-5.564],
        [23.99,-5.675],[23.3,-5.705],[23.9,-5.74],[20.52,-5.698],[22.45,-5.12],[22.8,-5.155],[22.89,-5.2],[23.1,-5.185],
        [22.8,-5.23],[23.35,-5.26],[23.5,-5.29],[23.9,-5.348],[23.6,-5.23],[24.26,-5.11],[24.0,-5.21],[24.4,-5.23],
        [24.5,-5.25],[24.3,-5.26],[24.72,-5.2],[24.9,-5.185],[25.3,-5.19],[24.9,-5.09],[25.2,-5.08],[25.08,-5.318],
        [25.73,-5.29],[26.37,-5.385],[26.82,-5.43],[26.1,-5.47],[26.2,-5.49],[26.3,-5.527],[27.1,-5.535],[27.65,-5.52],
        [27.92,-5.675],[25.8,-5.15],[26.4,-5.16],[26.92,-5.215],[27.1,-5.23],[27.6,-5.19],[27.9,-5.17],[28.2,-5.17],
        [28.93,-5.215],[27.2,-5.12],[27.0,-5.1],[27.6,-5.03],[28.8,-5.03],[29.3,-5.01],[29.38,-5.12],[29.7,-5.12],
        [29.75,-5.251],[30.3,-5.07],[30.6,-5.07],[30.94,-5.14],[29.6,-5.34],[30.0,-5.33],[30.3,-5.32],[30.5,-5.33],
        [31.58,-5.35],[31.85,-5.14],[32.4,-5.12],[32.77,-5.155],[33.4,-5.17],[33.0,-5.15],[32.5,-5.08],[32.58,-5.4],
        [32.8,-5.41],[33.77,-5.4],[33.77,-5.28],[33.9,-5.31],[34.32,-5.345],[34.87,-5.25],[34.14,-5.564],[34.05,-5.7],
        [32.8,-5.74],[33.22,-5.06],[33.8,-5.08],[34.6,-5.06],[35.15,-5.13],[36.06,-5.13],[36.9,-5.07],[37.3,-5.09],
        [38.98,-5.43],[39.5,-5.22]
    ];

    let serif = "'Liberation Serif', 'DejaVu Serif', serif";
    let ink = '#333333';
    let crossPath = 'path://M0,0L10,10M10,0L0,10';
    let fmt = v => String(v.toFixed(1)).replace('-', '\u2212');

    function densityPolygon(dens, fill, stroke) {
        return function (params, api) {
            let pts = [api.coord([0, kdeY[0]])];
            for (let i = 0; i < kdeY.length; i++) pts.push(api.coord([dens[i], kdeY[i]]));
            pts.push(api.coord([0, kdeY[kdeY.length - 1]]));
            return {
                type: 'polygon',
                shape: {points: pts},
                style: {fill: fill, stroke: stroke, lineWidth: 1.2}
            };
        };
    }

    option = {
        backgroundColor: '#fff',
        animation: false,
        grid: [
            {left: 86, top: 17, width: 728, height: 526, show: true, borderColor: ink, borderWidth: 1.5},
            {left: 841, top: 17, width: 91, height: 526, show: true, borderColor: ink, borderWidth: 1.5}
        ],
        xAxis: [{
            type: 'value', gridIndex: 0, min: 0, max: 39.9,
            splitLine: {show: false},
            axisLine: {show: true, lineStyle: {color: ink, width: 1.5}},
            axisTick: {length: 7, lineStyle: {color: ink, width: 1.5}, customValues: xTicks},
            axisLabel: {fontFamily: serif, fontSize: 25, color: ink, margin: 12, customValues: xTicks}
        }, {
            type: 'value', gridIndex: 1, min: 0, max: 1.171,
            splitLine: {show: false},
            axisLine: {show: true, lineStyle: {color: ink, width: 1.5}},
            axisTick: {length: 7, lineStyle: {color: ink, width: 1.5}, customValues: sideTicks},
            axisLabel: {fontFamily: serif, fontSize: 25, color: ink, margin: 12, customValues: sideTicks}
        }],
        yAxis: [{
            type: 'value', gridIndex: 0, min: -5.75, max: -3.39,
            splitLine: {show: false},
            axisLine: {show: true, lineStyle: {color: ink, width: 1.5}},
            axisTick: {length: 7, lineStyle: {color: ink, width: 1.5}, customValues: yTicks},
            axisLabel: {fontFamily: serif, fontSize: 25, color: ink, margin: 16, customValues: yTicks, formatter: fmt}
        }, {
            type: 'value', gridIndex: 1, min: -5.75, max: -3.39,
            splitLine: {show: false},
            axisLine: {show: true, lineStyle: {color: ink, width: 1.5}},
            axisTick: {length: 7, lineStyle: {color: ink, width: 1.5}, customValues: yTicks},
            axisLabel: {show: false}
        }],
        graphic: [{
            type: 'text',
            x: 569, y: 51, z: 100,
            style: {
                text: '5000K \u2264 {t|T}{s|eff} < 5500K',
                fontFamily: serif, fontSize: 35, lineHeight: 35, fill: '#000',
                align: 'center', verticalAlign: 'middle',
                rich: {
                    t: {fontFamily: serif, fontSize: 35, lineHeight: 35, fontStyle: 'italic'},
                    s: {fontFamily: serif, fontSize: 23, lineHeight: 18, verticalAlign: 'bottom'}
                }
            }
        }],
        series: [{
            name: 'blue', type: 'scatter', xAxisIndex: 0, yAxisIndex: 0, z: 1,
            symbol: crossPath, symbolSize: 12,
            itemStyle: {color: 'rgba(0,0,0,0)', borderColor: '#0000ff', borderWidth: 1.1, opacity: 0.8},
            data: bluePts
        }, {
            name: 'red', type: 'scatter', xAxisIndex: 0, yAxisIndex: 0, z: 1,
            symbol: crossPath, symbolSize: 12,
            itemStyle: {color: 'rgba(0,0,0,0)', borderColor: '#ff0000', borderWidth: 1.1, opacity: 0.8},
            data: redPts
        }, {
            name: 'err', type: 'custom', xAxisIndex: 0, yAxisIndex: 0, z: 3,
            encode: {x: 0, y: [1, 2]},
            renderItem: function (params, api) {
                let x = api.value(0);
                let top = api.coord([x, api.value(2)]);
                let bot = api.coord([x, api.value(1)]);
                let w = 3;
                let st = {stroke: 'rgba(45,45,45,0.85)', lineWidth: 2.8};
                return {
                    type: 'group', children: [
                        {type: 'line', shape: {x1: top[0], y1: top[1], x2: bot[0], y2: bot[1]}, style: st},
                        {type: 'line', shape: {x1: top[0] - w, y1: top[1], x2: top[0] + w, y2: top[1]}, style: st},
                        {type: 'line', shape: {x1: bot[0] - w, y1: bot[1], x2: bot[0] + w, y2: bot[1]}, style: st}
                    ]
                };
            },
            data: errX.map((x, i) => [x, errLow[i], errHigh[i]])
        }, {
            name: 'mid', type: 'scatter', xAxisIndex: 0, yAxisIndex: 0, z: 4,
            symbol: 'diamond', symbolSize: [10, 13],
            itemStyle: {color: 'rgba(0,0,0,0)', borderColor: '#000', borderWidth: 1.6},
            data: errX.map((x, i) => [x, errMid[i]])
        }, {
            name: 'trend', type: 'line', xAxisIndex: 0, yAxisIndex: 0, z: 5,
            smooth: 0.4, showSymbol: false,
            lineStyle: {color: '#000', width: 7, cap: 'round'},
            data: trend
        }, {
            name: 'blueKde', type: 'custom', xAxisIndex: 1, yAxisIndex: 1, z: 2, clip: true,
            renderItem: densityPolygon(blueDens, 'rgba(0,0,255,0.5)', '#0000ff'),
            data: [0]
        }, {
            name: 'redKde', type: 'custom', xAxisIndex: 1, yAxisIndex: 1, z: 3, clip: true,
            renderItem: densityPolygon(redDens, 'rgba(255,0,0,0.5)', '#ff0000'),
            data: [0]
        }]
    };

    let myChart = echarts.init(document.getElementById('main'));
    myChart.setOption(option);
</script>
</body>
</html>
